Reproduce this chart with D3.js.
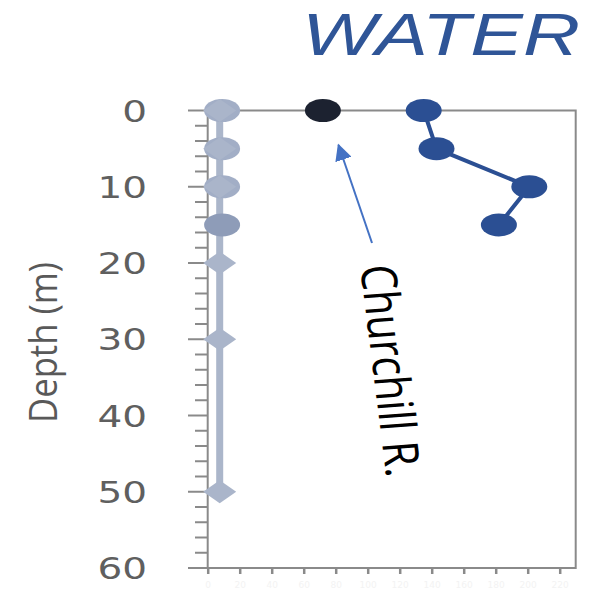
<!DOCTYPE html>
<html>
<head>
<meta charset="utf-8">
<script src="https://cdn.jsdelivr.net/npm/d3@7"></script>
<style>
  html, body { margin: 0; padding: 0; background: #fff; }
  svg { display: block; }
</style>
</head>
<body>
<div id="chart"></div>
<script>
// Depth profile values (x = concentration, y = depth in metres)
const depthTicks = [0, 10, 20, 30, 40, 50, 60];
const xTicks = [0, 20, 40, 60, 80, 100, 120, 140, 160, 180, 200, 220];

// Pale station: diamond markers joined by a line
const paleDepths = [0, 5, 10, 20, 30, 50];
const paleValues = [7.5, 7.5, 7.5, 7.5, 7.5, 7.5];

// Pale station: round markers in the upper layer
const roundDepths = [0, 5, 10];
const roundValues = [9, 9, 9];

// Slate marker at 15 m
const slateDepths = [15];
const slateValues = [9];

// Churchill River surface sample
const riverDepths = [0];
const riverValues = [72];

// Blue station profile
const blueDepths = [0, 5, 10, 15];
const blueValues = [135, 143, 201, 182];

const W = 615, H = 591;
const svg = d3.select("#chart").append("svg").attr("width", W).attr("height", H);

const x = d3.scaleLinear().domain([0, 230]).range([207.7, 575.7]);
const y = d3.scaleLinear().domain([0, 60]).range([110.5, 568]);

const axisColor = "#8a8a8a";
const stretch = 1.3;

// Title
svg.append("text")
  .attr("x", 302).attr("y", 55)
  .attr("font-family", "'Liberation Sans', Arial, sans-serif")
  .attr("font-style", "italic")
  .attr("font-size", 60)
  .attr("fill", "#2f5597")
  .attr("textLength", 278)
  .attr("lengthAdjust", "spacingAndGlyphs")
  .text("WATER");

// Minor and major depth ticks
const minor = d3.range(0, 61, 2);
svg.append("g").selectAll("line").data(minor).join("line")
  .attr("x1", d => d % 10 === 0 ? 188 : 195)
  .attr("x2", x(0))
  .attr("y1", d => y(d)).attr("y2", d => y(d))
  .attr("stroke", axisColor).attr("stroke-width", 2);

// Bottom axis with faint labels
const xAxis = d3.axisBottom(x).tickValues(xTicks).tickSize(6).tickSizeOuter(0);
const gx = svg.append("g").attr("transform", `translate(0,${y(60)})`).call(xAxis);
gx.select(".domain").remove();
gx.selectAll(".tick line").attr("stroke", axisColor).attr("stroke-width", 2.5);
gx.selectAll(".tick text")
  .attr("fill", "#f3f3f3")
  .attr("font-size", 9)
  .attr("font-family", "'DejaVu Sans', sans-serif")
  .attr("dy", "1.2em");

// Plot frame
svg.append("rect")
  .attr("x", x(0)).attr("y", y(0))
  .attr("width", x(230) - x(0)).attr("height", y(60) - y(0))
  .attr("fill", "none").attr("stroke", axisColor).attr("stroke-width", 2);

// Depth tick labels
svg.append("g").selectAll("text").data(depthTicks).join("text")
  .attr("transform", d => `translate(147,${y(d) + 11}) scale(${stretch},1)`)
  .attr("text-anchor", "end")
  .attr("font-family", "'DejaVu Sans', Verdana, sans-serif")
  .attr("font-size", 30)
  .attr("fill", "#5f5f5f")
  .text(d => d);

// Depth axis title
svg.append("text")
  .attr("transform", `translate(57,342.5) scale(${stretch},1) rotate(-90)`)
  .attr("text-anchor", "middle")
  .attr("font-family", "'Open Sans', sans-serif")
  .attr("font-size", 30)
  .attr("fill", "#595959")
  .attr("textLength", 161)
  .attr("lengthAdjust", "spacingAndGlyphs")
  .text("Depth (m)");

const ellRx = 18, ellRy = 11.5;

// Pale station line
const profileLine = d3.line().x(d => x(d[1])).y(d => y(d[0]));
svg.append("path")
  .datum(d3.zip(paleDepths, paleValues))
  .attr("d", profileLine)
  .attr("fill", "none").attr("stroke", "#abb6ca").attr("stroke-width", 7);

// Round pale markers
svg.append("g").selectAll("ellipse").data(d3.zip(roundDepths, roundValues)).join("ellipse")
  .attr("cx", d => x(d[1])).attr("cy", d => y(d[0]))
  .attr("rx", ellRx).attr("ry", ellRy)
  .attr("fill", "#a2aec6");

svg.append("g").selectAll("ellipse").data(d3.zip(slateDepths, slateValues)).join("ellipse")
  .attr("cx", d => x(d[1])).attr("cy", d => y(d[0]))
  .attr("rx", ellRx).attr("ry", ellRy)
  .attr("fill", "#8e9cb8");

// Diamond markers
svg.append("g").selectAll("path").data(d3.zip(paleDepths, paleValues)).join("path")
  .attr("transform", d => `translate(${x(d[1])},${y(d[0])})`)
  .attr("d", "M-16.5,0L0,-11.5L16.5,0L0,11.5Z")
  .attr("fill", "#aab5ca");

// Blue station profile
svg.append("path")
  .datum(d3.zip(blueDepths, blueValues))
  .attr("d", profileLine)
  .attr("fill", "none").attr("stroke", "#2b4f93").attr("stroke-width", 4);
svg.append("g").selectAll("ellipse").data(d3.zip(blueDepths, blueValues)).join("ellipse")
  .attr("cx", d => x(d[1])).attr("cy", d => y(d[0]))
  .attr("rx", ellRx).attr("ry", ellRy)
  .attr("fill", "#2b4f93");

// Churchill River sample
svg.append("g").selectAll("ellipse").data(d3.zip(riverDepths, riverValues)).join("ellipse")
  .attr("cx", d => x(d[1])).attr("cy", d => y(d[0]))
  .attr("rx", ellRx).attr("ry", ellRy)
  .attr("fill", "#1c2230");

// Annotation arrow pointing at the river sample
svg.append("defs").append("marker")
  .attr("id", "arrowhead")
  .attr("viewBox", "0 0 10 10")
  .attr("refX", 9).attr("refY", 5)
  .attr("markerWidth", 8.5).attr("markerHeight", 8.5)
  .attr("markerUnits", "strokeWidth")
  .attr("orient", "auto")
  .append("path").attr("d", "M0,0L10,5L0,10Z").attr("fill", "#4472c4");

svg.append("line")
  .attr("x1", 372).attr("y1", 243)
  .attr("x2", 338.5).attr("y2", 145)
  .attr("stroke", "#4472c4").attr("stroke-width", 2)
  .attr("marker-end", "url(#arrowhead)");

svg.append("text")
  .attr("transform", `translate(360,266) scale(${stretch},1) rotate(84.5)`)
  .attr("font-family", "'Open Sans', sans-serif")
  .attr("font-size", 38)
  .attr("fill", "#000")
  .attr("textLength", 213)
  .attr("lengthAdjust", "spacingAndGlyphs")
  .text("Churchill R.");
</script>
</body>
</html>
